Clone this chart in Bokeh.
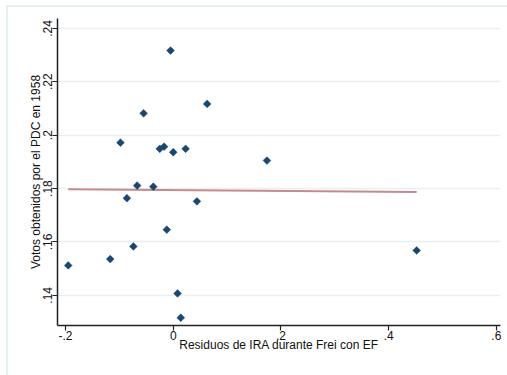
from bokeh.plotting import figure
from bokeh.models import FixedTicker, CustomJSTickFormatter
from bokeh.embed import file_html
from bokeh.resources import INLINE

# Data
resid_ira = [-0.195, -0.117, -0.098, -0.086, -0.074, -0.067, -0.055, -0.037, -0.025, -0.017,
             -0.012, -0.005, 0.000, 0.008, 0.014, 0.023, 0.044, 0.063, 0.174, 0.452]
votos_pdc = [0.1512, 0.1536, 0.1972, 0.1764, 0.1583, 0.1811, 0.2082, 0.1807, 0.1949, 0.1957,
             0.1646, 0.2317, 0.1936, 0.1407, 0.1316, 0.1949, 0.1752, 0.2117, 0.1905, 0.1568]
fit_x = [-0.195, 0.452]
fit_y = [0.1797, 0.1787]
x_ticks = [-0.2, 0.0, 0.2, 0.4, 0.6]
y_ticks = [0.14, 0.16, 0.18, 0.20, 0.22, 0.24]

FONT = "Liberation Sans"
BORDER = "#e6eff1"

p = figure(width=507, height=375, output_backend="svg", toolbar_location=None,
           x_range=(-0.2149, 0.6077), y_range=(0.1287, 0.2437),
           min_border_left=57, min_border_right=7, min_border_top=18, min_border_bottom=50,
           styles={"background": (f"linear-gradient({BORDER},{BORDER}) 6px 5px / 700px 2px no-repeat, "
                                  f"linear-gradient({BORDER},{BORDER}) 6px 5px / 2px 500px no-repeat, white")})
p.background_fill_color = "white"
p.border_fill_color = None
p.outline_line_color = None

p.xgrid.visible = False
p.ygrid.grid_line_color = "#e9f0f2"
p.ygrid.grid_line_width = 1.5

fmt = CustomJSTickFormatter(code="""
    let s = (Math.round(tick*100)/100).toString();
    if (s.startsWith('0.')) s = s.slice(1);
    else if (s.startsWith('-0.')) s = '-' + s.slice(2);
    return s;
""")

for ax, ticks in ((p.xaxis, x_ticks), (p.yaxis, y_ticks)):
    ax.ticker = FixedTicker(ticks=ticks)
    ax.formatter = fmt
    ax.minor_tick_line_color = None
    ax.major_tick_out = 5
    ax.major_tick_in = 0
    ax.axis_line_color = "#222222"
    ax.axis_line_width = 1.5
    ax.major_tick_line_color = "#222222"
    ax.major_tick_line_width = 1.2
    ax.major_label_text_font = FONT
    ax.major_label_text_font_size = "12px"
    ax.major_label_text_color = "#111111"
    ax.axis_label_text_font = FONT
    ax.axis_label_text_font_size = "12px"
    ax.axis_label_text_font_style = "normal"
    ax.axis_label_text_color = "#111111"
    ax.major_label_standoff = 0

p.xaxis.axis_label = "Residuos de IRA durante Frei con EF"
p.yaxis.axis_label = "Votos obtenidos por el PDC en 1958"
p.yaxis.major_label_orientation = "vertical"
p.xaxis.axis_label_standoff = -5
p.yaxis.axis_label_standoff = -2

p.line(fit_x, fit_y, line_color="#c48a8c", line_width=2)
p.scatter(resid_ira, votos_pdc, marker="square", angle=0.785398, size=5.5,
          fill_color="#1a476f", line_color="#1a476f", line_width=0.5)

open("out.html", "w").write(file_html(p, INLINE))
